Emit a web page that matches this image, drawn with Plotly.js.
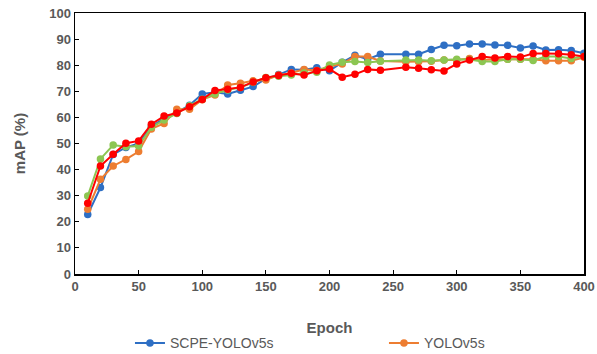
<!DOCTYPE html>
<html>
<head>
<meta charset="utf-8">
<script src="https://cdn.plot.ly/plotly-3.0.1.min.js"></script>
<style>html,body{margin:0;padding:0;background:#fff;}#chart{width:597px;height:354px;}</style>
</head>
<body>
<div id="chart"></div>
<script>
const epochs = [10,20,30,40,50,60,70,80,90,100,110,120,130,140,150,160,170,180,190,200,210,220,230,240,260,270,280,290,300,310,320,330,340,350,360,370,380,390,400];
const scpeYolo = [22.8,33.1,45.8,48.5,50,56.5,59.5,61.8,64.7,69,69.6,69,70.4,71.8,74.8,76.4,78.4,78.3,79,77.9,81.1,83.8,82.3,84.2,84.2,84.2,86,87.6,87.5,88.1,88.1,87.7,87.6,86.6,87.4,85.8,85.9,85.6,84.6];
const yolo = [24.8,36.3,41.4,43.9,46.9,55.6,57.7,63.1,63.1,66.8,68.6,72.4,73.1,74,74.3,76.2,77,78.4,78,79.5,80.5,83.3,83.3,81.6,81.3,81.3,81.5,82,82,82.6,82,82.3,82.3,82.3,82.3,81.7,81.7,81.7,83];
const greenSeries = [29.9,44.1,49.4,48.8,49,56.2,59,61.5,64.5,67,69,70.5,71.5,73.5,75.3,75.8,76.2,77,77.3,80.1,81.1,81.4,81,81.5,82,82,81.7,82,82.3,82.2,81.4,81.4,82.3,82.3,81.8,83.3,83.3,82.6,83.3];
const redSeries = [27.1,41.4,45.9,50.1,51,57.4,60.5,61.7,64.1,66.9,70.3,70.8,71.5,73.6,75.2,76.1,76.9,76.2,77.9,78.5,75.4,76.5,78.4,78.1,79.2,78.8,78.3,77.8,80.5,82,83.3,82.8,83.3,83.1,84.5,84.5,84.4,84,83.3];
const xTicks = [0,50,100,150,200,250,300,350,400];
const yTicks = [0,10,20,30,40,50,60,70,80,90,100];

function tr(name, y, color, show, leg) {
  return {x: epochs, y: y, name: name, type: 'scatter', mode: 'lines+markers',
    line: {color: color, width: 2}, marker: {color: color, size: 7.5},
    showlegend: show, legend: leg};
}
const data = [
  tr('SCPE-YOLOv5s', scpeYolo, '#2E6FC4', true, 'legend'),
  tr('YOLOv5s', yolo, '#ED7D31', true, 'legend2'),
  tr('Model C', greenSeries, '#8CC652', false, 'legend'),
  tr('Model D', redSeries, '#FF0000', false, 'legend')
];
const FF = 'Arial, Liberation Sans, sans-serif';
const axisFont = {family: FF, size: 13, color: '#595959', weight: 'bold'};
const legFont = {family: FF, size: 14, color: '#595959'};
const layout = {
  width: 597, height: 354,
  margin: {l: 75, r: 13, t: 13, b: 80, autoexpand: false},
  paper_bgcolor: '#fff', plot_bgcolor: '#fff',
  font: {family: FF, color: '#595959'},
  xaxis: {range: [0, 400], tickvals: xTicks, ticktext: xTicks.map(String), automargin: false,
    showgrid: false, zeroline: false, showline: true, mirror: true, linecolor: '#000', linewidth: 1.5,
    ticks: 'inside', ticklen: 4, tickcolor: '#000', tickfont: axisFont,
    title: {text: 'Epoch', font: {family: FF, size: 15, color: '#595959', weight: 'bold'}, standoff: 29}},
  yaxis: {range: [0, 100], tickvals: yTicks, ticktext: yTicks.map(String), automargin: false,
    showgrid: false, zeroline: false, showline: true, mirror: true, linecolor: '#000', linewidth: 1.5,
    ticks: 'inside', ticklen: 4, tickcolor: '#000', tickfont: axisFont,
    title: {text: 'mAP (%)', font: {family: FF, size: 15, color: '#595959', weight: 'bold'}, standoff: 20}},
  legend: {orientation: 'h', x: 0.108, xanchor: 'left', y: -0.266, yanchor: 'middle',
    font: legFont, bgcolor: 'rgba(0,0,0,0)'},
  legend2: {orientation: 'h', x: 0.607, xanchor: 'left', y: -0.266, yanchor: 'middle',
    font: legFont, bgcolor: 'rgba(0,0,0,0)'}
};
Plotly.newPlot('chart', data, layout, {displayModeBar: false, staticPlot: true});
</script>
</body>
</html>
